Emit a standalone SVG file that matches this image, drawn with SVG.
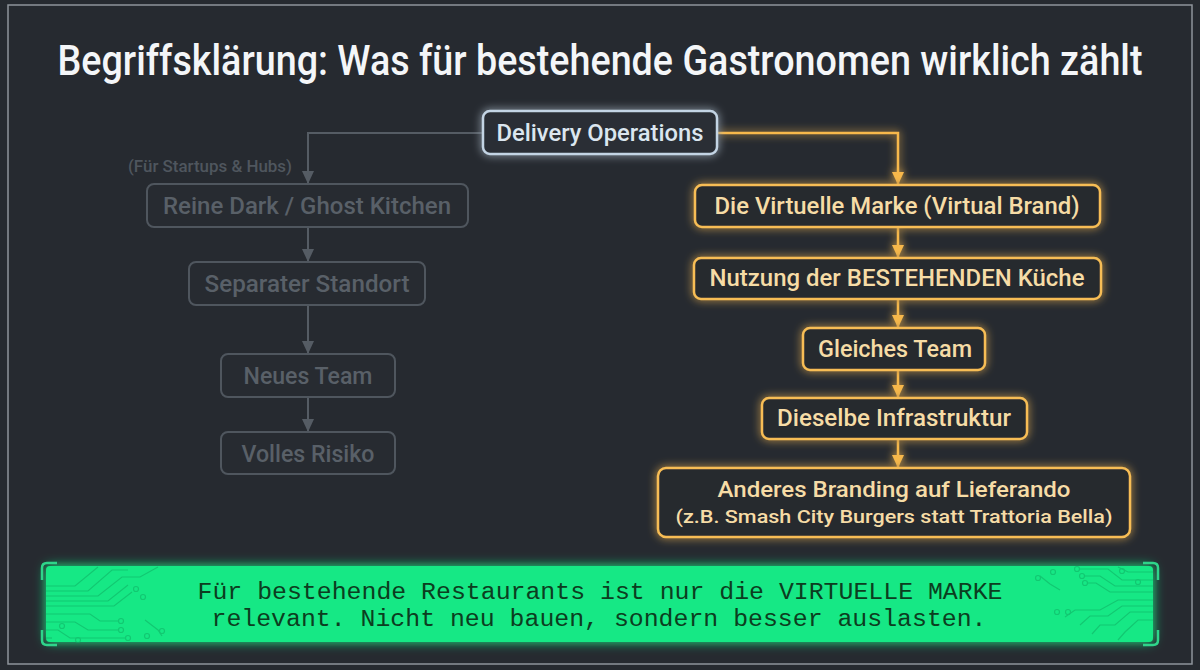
<svg xmlns="http://www.w3.org/2000/svg" width="1200" height="670" viewBox="0 0 1200 670">
<defs>
<style>
.ui{font-family:Roboto,"Liberation Sans",sans-serif;font-weight:500}
.gbox{fill:#272b31;stroke:#4f565e;stroke-width:2}
.gtxt{fill:#596068;font-size:23px;text-anchor:middle}
.obox{fill:#272a2f;stroke:#f7bd55;stroke-width:2.5}
.otxt{fill:#f6dca6;font-size:23px;text-anchor:middle}
.oline{fill:none;stroke:#f7b84c;stroke-width:2.5}
.gline{fill:none;stroke:#555c64;stroke-width:2}
.circ{fill:none;stroke:#0fae62;stroke-width:1.2;opacity:0.55}
.mono{font-family:"Liberation Mono","DejaVu Sans Mono",monospace;font-size:23px;fill:#0c3d20;text-anchor:middle}
</style>
<filter id="glowO" x="-20%" y="-50%" width="140%" height="200%">
<feGaussianBlur in="SourceGraphic" stdDeviation="4" result="b"/>
<feMerge><feMergeNode in="b"/><feMergeNode in="SourceGraphic"/></feMerge>
</filter>
<filter id="glowB" x="-20%" y="-50%" width="140%" height="200%">
<feGaussianBlur in="SourceGraphic" stdDeviation="4" result="b"/>
<feMerge><feMergeNode in="b"/><feMergeNode in="SourceGraphic"/></feMerge>
</filter>
<filter id="glowG" x="-10%" y="-50%" width="120%" height="200%">
<feGaussianBlur in="SourceGraphic" stdDeviation="6" result="b"/>
<feMerge><feMergeNode in="b"/><feMergeNode in="SourceGraphic"/></feMerge>
</filter>
<marker id="arrO" markerWidth="14" markerHeight="14" refX="12" refY="7" orient="auto" markerUnits="userSpaceOnUse">
<path d="M0,1 L13,7 L0,13 Z" fill="#f7b84c"/>
</marker>
<marker id="arrG" markerWidth="14" markerHeight="14" refX="12" refY="7" orient="auto" markerUnits="userSpaceOnUse">
<path d="M0,1 L13,7 L0,13 Z" fill="#555c64"/>
</marker>
</defs>

<rect x="0" y="0" width="1200" height="670" fill="#262a30"/>
<rect x="8" y="5" width="1184" height="659" fill="none" stroke="#8e949b" stroke-width="1.5"/>

<text class="ui" x="600" y="75" font-size="42" fill="#f4f6f8" text-anchor="middle" textLength="1085" lengthAdjust="spacingAndGlyphs">Begriffsklärung: Was für bestehende Gastronomen wirklich zählt</text>

<g id="connectors">
<path class="gline" d="M483,133 H308 V183" marker-end="url(#arrG)"/>
<path class="gline" d="M308,227 V261" marker-end="url(#arrG)"/>
<path class="gline" d="M308,305 V353" marker-end="url(#arrG)"/>
<path class="gline" d="M308,397 V431" marker-end="url(#arrG)"/>
<g filter="url(#glowO)">
<path class="oline" d="M717,133 H898 V184" marker-end="url(#arrO)"/>
<path class="oline" d="M898,227 V257" marker-end="url(#arrO)"/>
<path class="oline" d="M898,299 V327" marker-end="url(#arrO)"/>
<path class="oline" d="M898,370 V397" marker-end="url(#arrO)"/>
<path class="oline" d="M898,439 V467" marker-end="url(#arrO)"/>
</g>
</g>

<g id="delivery-operations">
<rect x="483" y="111" width="234" height="43" rx="7" fill="#2a2f36" stroke="#c3d4e4" stroke-width="2.5" filter="url(#glowB)"/>
<text class="ui" x="600" y="141" font-size="23" fill="#dbe6ef" text-anchor="middle" textLength="207" lengthAdjust="spacingAndGlyphs">Delivery Operations</text>
</g>

<g id="startup-label">
<text class="ui" x="210" y="172" font-size="16" fill="#4f565e" text-anchor="middle" textLength="164" lengthAdjust="spacingAndGlyphs">(Für Startups &amp; Hubs)</text>
</g>

<g id="reine-dark-kitchen">
<rect class="gbox" x="147" y="184" width="321" height="43" rx="7"/>
<text class="ui gtxt" x="307" y="214" textLength="288" lengthAdjust="spacingAndGlyphs">Reine Dark / Ghost Kitchen</text>
</g>
<g id="separater-standort">
<rect class="gbox" x="189" y="262" width="236" height="43" rx="7"/>
<text class="ui gtxt" x="307" y="292" textLength="205" lengthAdjust="spacingAndGlyphs">Separater Standort</text>
</g>
<g id="neues-team">
<rect class="gbox" x="221" y="354" width="174" height="43" rx="7"/>
<text class="ui gtxt" x="308" y="384" textLength="129" lengthAdjust="spacingAndGlyphs">Neues Team</text>
</g>
<g id="volles-risiko">
<rect class="gbox" x="221" y="432" width="174" height="42" rx="7"/>
<text class="ui gtxt" x="308" y="462" textLength="133" lengthAdjust="spacingAndGlyphs">Volles Risiko</text>
</g>

<g id="virtuelle-marke">
<rect class="obox" x="695" y="185" width="405" height="42" rx="7" filter="url(#glowO)"/>
<text class="ui otxt" x="897" y="214" textLength="365" lengthAdjust="spacingAndGlyphs">Die Virtuelle Marke (Virtual Brand)</text>
</g>
<g id="bestehende-kueche">
<rect class="obox" x="694" y="258" width="407" height="41" rx="7" filter="url(#glowO)"/>
<text class="ui otxt" x="897" y="286" textLength="375" lengthAdjust="spacingAndGlyphs">Nutzung der BESTEHENDEN Küche</text>
</g>
<g id="gleiches-team">
<rect class="obox" x="803" y="328" width="182" height="42" rx="7" filter="url(#glowO)"/>
<text class="ui otxt" x="895" y="357" textLength="154" lengthAdjust="spacingAndGlyphs">Gleiches Team</text>
</g>
<g id="infrastruktur">
<rect class="obox" x="762" y="398" width="265" height="41" rx="7" filter="url(#glowO)"/>
<text class="ui otxt" x="894" y="426" textLength="234" lengthAdjust="spacingAndGlyphs">Dieselbe Infrastruktur</text>
</g>
<g id="anderes-branding">
<rect class="obox" x="658" y="468" width="472" height="69" rx="8" filter="url(#glowO)"/>
<text class="ui otxt" x="894" y="497" style="font-size:22px" textLength="353" lengthAdjust="spacingAndGlyphs">Anderes Branding auf Lieferando</text>
<text class="ui otxt" x="894" y="523" style="font-size:19px" textLength="437" lengthAdjust="spacingAndGlyphs">(z.B. Smash City Burgers statt Trattoria Bella)</text>
</g>

<g id="fazit-banner">
<rect x="46" y="566" width="1107" height="76" rx="4" fill="#17e885" filter="url(#glowG)"/>
<g class="circ">
<path d="M46,586 H75 L98,567"/>
<path d="M46,591 H88 L112,570 H128"/>
<path d="M46,596 H98 L122,577 H140 L158,567"/>
<path d="M46,601 H108 L128,585"/>
<path d="M46,606 H114 L132,592"/>
<circle cx="136" cy="589" r="2.5"/>
<circle cx="143" cy="597" r="2.5"/>
<path d="M46,614 H90 L100,621 H118"/>
<circle cx="121" cy="621" r="2.5"/>
<path d="M46,622 H75 L88,630 H118"/>
<circle cx="121" cy="630" r="2.5"/>
<path d="M46,630 H58 L70,638 H125"/>
<circle cx="128" cy="638" r="2.5"/>
<path d="M46,638 H52"/>
<circle cx="62" cy="626" r="2.5"/>
<circle cx="78" cy="640" r="2.5"/>
<path d="M145,620 L158,630 L162,636"/>
<circle cx="162" cy="631" r="2.5"/>
<circle cx="147" cy="636" r="2.5"/>
<path d="M1153,572 H1128 L1118,567"/>
<path d="M1153,580 H1122 L1108,569 H1080"/>
<circle cx="1077" cy="569" r="2.5"/>
<path d="M1153,586 H1115 L1100,576 H1085"/>
<circle cx="1082" cy="576" r="2.5"/>
<path d="M1153,592 H1110 L1096,583 H1088"/>
<circle cx="1085" cy="583" r="2.5"/>
<path d="M1153,600 H1118 L1100,610 H1075 L1065,617"/>
<path d="M1153,606 H1122 L1108,616 H1090 L1080,625"/>
<path d="M1153,612 H1130 L1115,625 H1100 L1092,634"/>
<path d="M1153,620 H1138 L1125,632 L1118,640"/>
<circle cx="1057" cy="612" r="2.5"/>
<circle cx="1068" cy="612" r="2.5"/>
<path d="M1040,576 L1050,584 L1060,590"/>
<circle cx="1038" cy="578" r="2.5"/>
<circle cx="1053" cy="572" r="2.5"/>
<circle cx="1122" cy="571" r="2.5"/>
<circle cx="1138" cy="582" r="2.5"/>
</g>
<g fill="none" stroke="#2fd48a" stroke-width="2.5">
<path d="M57,563 H47 Q42,563 42,568 V580"/>
<path d="M42,630 V640 Q42,645 47,645 H57"/>
<path d="M1143,563 H1153 Q1158,563 1158,568 V580"/>
<path d="M1158,630 V640 Q1158,645 1153,645 H1143"/>
</g>
<text class="mono" x="600" y="599" textLength="805" lengthAdjust="spacingAndGlyphs">Für bestehende Restaurants ist nur die VIRTUELLE MARKE</text>
<text class="mono" x="599" y="626" textLength="775" lengthAdjust="spacingAndGlyphs">relevant. Nicht neu bauen, sondern besser auslasten.</text>
</g>
</svg>
